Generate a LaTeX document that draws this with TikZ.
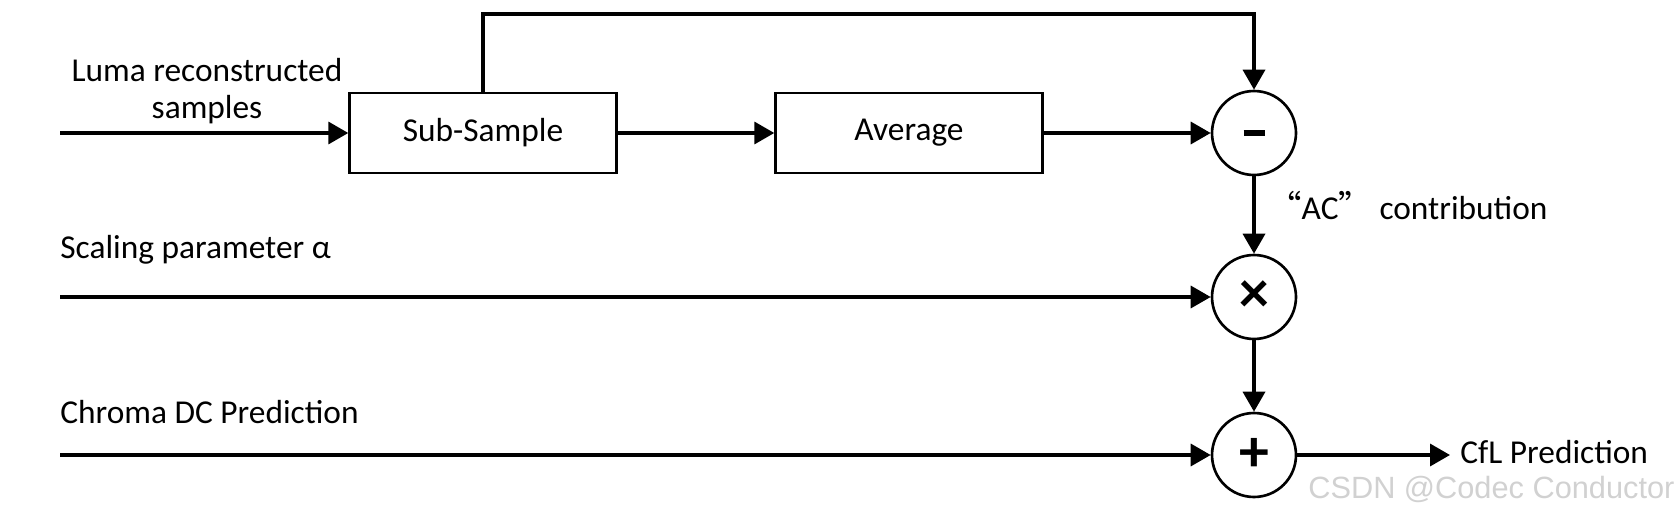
\documentclass[tikz,border=0pt]{standalone}
\usepackage{fontspec}
\setmainfont{Carlito}
\newfontfamily\cjk{Noto Sans CJK SC}
\newfontfamily\wmfont{Liberation Sans}
\usetikzlibrary{arrows.meta}
\begin{document}
\begin{tikzpicture}[x=0.02cm, y=-0.02cm, font=\fontsize{19}{23}\selectfont,
    block/.style={draw, line width=1.4pt, minimum width=5.34cm, minimum height=1.6cm, inner sep=0pt},
    op/.style={circle, draw, line width=1.5pt, minimum size=1.68cm, inner sep=0pt, font=\fontsize{34}{34}\selectfont\bfseries},
    wire/.style={line width=2pt, -{Triangle[length=0.4cm, width=0.44cm]}},
    label/.style={inner sep=0pt, anchor=west}]
      \useasboundingbox (0, 0) rectangle (1680, 510);

      \node[block] (sub) at (483, 133) {Sub-Sample};
      \node[block] (avg) at (909, 133) {Average};
      \node[op] (minus) at (1254, 133) {\rule{0.42cm}{0.11cm}};
      \node[op] (times) at (1254, 297) {×};
      \node[op] (plus)  at (1254, 455) {+};

      % inputs and output
      \coordinate (luma)   at (60, 133);
      \coordinate (alpha)  at (60, 297);
      \coordinate (chroma) at (60, 455);
      \coordinate (out)    at (1450, 455);
      \coordinate (top)    at (483, 14);

      \node[align=center, inner sep=0pt] (lumatext) at (207, 91) {Luma reconstructed\\[-2pt]samples};
      \node[label] (alphatext) at (60, 250) {Scaling parameter α};
      \node[label] (chromatext) at (60, 412) {Chroma DC Prediction};
      \node[label] (actext) at (1268, 205) {{\cjk “}AC{\cjk ”} contribution};
      \node[label] (cfl) at (1460, 452) {CfL Prediction};
      \node[label, text=black!18, font=\wmfont\fontsize{17.5}{20}\selectfont] (mark) at (1308, 489) {CSDN @Codec Conductor};

      \draw[wire] (luma) -- (sub);
      \draw[wire] (sub) -- (avg);
      \draw[wire] (avg) -- (minus);
      \draw[wire] (sub.north) |- (top) -| (minus.north);
      \draw[wire] (minus) -- (times);
      \draw[wire] (alpha) -- (times);
      \draw[wire] (times) -- (plus);
      \draw[wire] (chroma) -- (plus);
      \draw[wire] (plus) -- (out);
    \end{tikzpicture}
\end{document}
